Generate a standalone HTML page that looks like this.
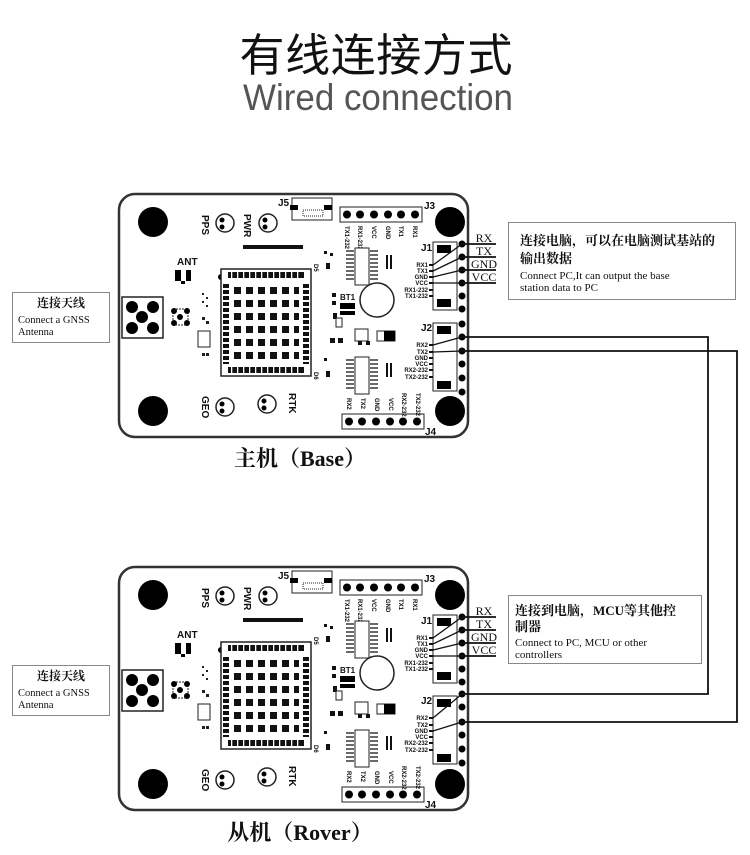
<!DOCTYPE html>
<html><head><meta charset="utf-8"><style>
html,body{margin:0;padding:0;background:#fff;}
svg{display:block;}
.cn{font-family:"Liberation Serif","Noto Serif CJK SC",serif;}
.pl{font-family:"Liberation Sans",sans-serif;font-size:6px;font-weight:bold;fill:#111;}
.lb{font-family:"Liberation Sans",sans-serif;font-weight:bold;fill:#111;}
</style></head><body>
<svg width="750" height="855" viewBox="0 0 750 855" xmlns="http://www.w3.org/2000/svg">
<rect width="750" height="855" fill="#fff"/>
<text x="376" y="71" text-anchor="middle" font-family="Noto Sans CJK SC,sans-serif" font-size="45" fill="#111" textLength="273">有线连接方式</text>
<text x="378" y="110" text-anchor="middle" font-family="Liberation Sans,sans-serif" font-size="37" fill="#555" textLength="270" lengthAdjust="spacingAndGlyphs">Wired connection</text>

<!-- BASE BOARD -->
<g transform="translate(118,193)">
<rect x="1" y="1" width="349" height="243" rx="16" fill="#fff" stroke="#333" stroke-width="2.5"/>
<circle cx="35" cy="29" r="15"/><circle cx="332" cy="29" r="15"/><circle cx="35" cy="218" r="15"/><circle cx="332" cy="218" r="15"/>
<rect x="4" y="104" width="41" height="41" fill="#fff" stroke="#222" stroke-width="1.5"/>
<circle cx="14" cy="114" r="6"/><circle cx="35" cy="114" r="6"/><circle cx="24" cy="124" r="6"/><circle cx="14" cy="135" r="6"/><circle cx="35" cy="135" r="6"/>
<rect x="55" y="116" width="15" height="16" fill="none" stroke="#222" stroke-dasharray="2 1"/>
<circle cx="56" cy="118" r="3"/><circle cx="69" cy="118" r="3"/><circle cx="62" cy="124" r="3"/><circle cx="56" cy="130" r="3"/><circle cx="69" cy="130" r="3"/>
<text class="lb" x="59" y="72" font-size="10">ANT</text>
<rect x="57" y="77" width="6" height="11"/><rect x="68" y="77" width="5" height="11"/><rect x="63" y="88" width="4" height="3"/>
<circle cx="103" cy="84" r="3"/>
<rect x="80" y="138" width="12" height="16" fill="none" stroke="#222"/>
<g fill="#222"><rect x="84" y="100" width="2" height="2"/><rect x="88" y="104" width="2" height="2"/><rect x="84" y="108" width="2" height="2"/><rect x="88" y="112" width="2" height="2"/><rect x="84" y="124" width="3" height="3"/><rect x="88" y="128" width="3" height="3"/><rect x="84" y="160" width="3" height="3"/><rect x="88" y="160" width="3" height="3"/></g>
<rect x="103" y="76" width="90" height="107" fill="#fff" stroke="#222" stroke-width="1.5"/>
<g fill="#111">
<rect x="110" y="79" width="76" height="6"/><rect x="110" y="174" width="76" height="6"/>
<rect x="105" y="91" width="6" height="80"/><rect x="185" y="91" width="6" height="80"/>
</g>
<g fill="#fff"><rect x="113" y="79" width="1.3" height="6"/><rect x="119" y="79" width="1.3" height="6"/><rect x="125" y="79" width="1.3" height="6"/><rect x="131" y="79" width="1.3" height="6"/><rect x="137" y="79" width="1.3" height="6"/><rect x="143" y="79" width="1.3" height="6"/><rect x="149" y="79" width="1.3" height="6"/><rect x="155" y="79" width="1.3" height="6"/><rect x="161" y="79" width="1.3" height="6"/><rect x="167" y="79" width="1.3" height="6"/><rect x="173" y="79" width="1.3" height="6"/><rect x="179" y="79" width="1.3" height="6"/>
<rect x="113" y="174" width="1.3" height="6"/><rect x="119" y="174" width="1.3" height="6"/><rect x="125" y="174" width="1.3" height="6"/><rect x="131" y="174" width="1.3" height="6"/><rect x="137" y="174" width="1.3" height="6"/><rect x="143" y="174" width="1.3" height="6"/><rect x="149" y="174" width="1.3" height="6"/><rect x="155" y="174" width="1.3" height="6"/><rect x="161" y="174" width="1.3" height="6"/><rect x="167" y="174" width="1.3" height="6"/><rect x="173" y="174" width="1.3" height="6"/><rect x="179" y="174" width="1.3" height="6"/>
<rect x="105" y="95" width="6" height="2"/><rect x="105" y="101" width="6" height="2"/><rect x="105" y="107" width="6" height="2"/><rect x="105" y="113" width="6" height="2"/><rect x="105" y="119" width="6" height="2"/><rect x="105" y="125" width="6" height="2"/><rect x="105" y="131" width="6" height="2"/><rect x="105" y="137" width="6" height="2"/><rect x="105" y="143" width="6" height="2"/><rect x="105" y="149" width="6" height="2"/><rect x="105" y="155" width="6" height="2"/><rect x="105" y="161" width="6" height="2"/><rect x="105" y="167" width="6" height="2"/>
<rect x="185" y="95" width="6" height="2"/><rect x="185" y="101" width="6" height="2"/><rect x="185" y="107" width="6" height="2"/><rect x="185" y="113" width="6" height="2"/><rect x="185" y="119" width="6" height="2"/><rect x="185" y="125" width="6" height="2"/><rect x="185" y="131" width="6" height="2"/><rect x="185" y="137" width="6" height="2"/><rect x="185" y="143" width="6" height="2"/><rect x="185" y="149" width="6" height="2"/><rect x="185" y="155" width="6" height="2"/><rect x="185" y="161" width="6" height="2"/><rect x="185" y="167" width="6" height="2"/></g>
<g fill="#111">
<rect x="116" y="94" width="7" height="7"/><rect x="128" y="94" width="7" height="7"/><rect x="140" y="94" width="7" height="7"/><rect x="152" y="94" width="7" height="7"/><rect x="164" y="94" width="7" height="7"/><rect x="176" y="94" width="5" height="7"/>
<rect x="116" y="107" width="7" height="7"/><rect x="128" y="107" width="7" height="7"/><rect x="140" y="107" width="7" height="7"/><rect x="152" y="107" width="7" height="7"/><rect x="164" y="107" width="7" height="7"/><rect x="176" y="107" width="5" height="7"/>
<rect x="116" y="120" width="7" height="7"/><rect x="128" y="120" width="7" height="7"/><rect x="140" y="120" width="7" height="7"/><rect x="152" y="120" width="7" height="7"/><rect x="164" y="120" width="7" height="7"/><rect x="176" y="120" width="5" height="7"/>
<rect x="116" y="133" width="7" height="7"/><rect x="128" y="133" width="7" height="7"/><rect x="140" y="133" width="7" height="7"/><rect x="152" y="133" width="7" height="7"/><rect x="164" y="133" width="7" height="7"/><rect x="176" y="133" width="5" height="7"/>
<rect x="116" y="146" width="7" height="7"/><rect x="128" y="146" width="7" height="7"/><rect x="140" y="146" width="7" height="7"/><rect x="152" y="146" width="7" height="7"/><rect x="164" y="146" width="7" height="7"/><rect x="176" y="146" width="5" height="7"/>
<rect x="116" y="159" width="7" height="7"/><rect x="128" y="159" width="7" height="7"/><rect x="140" y="159" width="7" height="7"/><rect x="152" y="159" width="7" height="7"/><rect x="164" y="159" width="7" height="7"/><rect x="176" y="159" width="5" height="7"/>
<rect x="125" y="52" width="60" height="4"/>
</g>
<g fill="#fff" stroke="#222" stroke-width="1.5"><circle cx="107" cy="30" r="9"/><circle cx="150" cy="30" r="9"/><circle cx="107" cy="214" r="9"/><circle cx="149" cy="211" r="9"/></g>
<g><circle cx="104" cy="27" r="2.5"/><circle cx="104" cy="34" r="2.5"/><circle cx="147" cy="27" r="2.5"/><circle cx="147" cy="34" r="2.5"/><circle cx="104" cy="211" r="2.5"/><circle cx="104" cy="218" r="2.5"/><circle cx="146" cy="208" r="2.5"/><circle cx="146" cy="215" r="2.5"/></g>
<text class="lb" font-size="10" transform="translate(84,22) rotate(90)">PPS</text>
<text class="lb" font-size="10" transform="translate(126,21) rotate(90)">PWR</text>
<text class="lb" font-size="10" transform="translate(84,203) rotate(90)">GEO</text>
<text class="lb" font-size="10" transform="translate(171,200) rotate(90)">RTK</text>
<rect x="174" y="5" width="40" height="22" fill="#fff" stroke="#222"/>
<rect x="172" y="12" width="8" height="5"/><rect x="206" y="12" width="8" height="5"/>
<rect x="185" y="17" width="20" height="6" fill="none" stroke="#222" stroke-dasharray="1 1"/>
<text class="lb" x="160" y="13" font-size="10">J5</text>
<rect x="222" y="14" width="82" height="15" fill="#fff" stroke="#222"/>
<g><circle cx="229" cy="21.5" r="4"/><circle cx="242" cy="21.5" r="4"/><circle cx="256" cy="21.5" r="4"/><circle cx="270" cy="21.5" r="4"/><circle cx="283" cy="21.5" r="4"/><circle cx="297" cy="21.5" r="4"/></g>
<text class="lb" x="306" y="16" font-size="10">J3</text>
<g class="pl"><text transform="translate(227,33) rotate(90)">TX1-232</text><text transform="translate(240,33) rotate(90)">RX1-232</text><text transform="translate(254,33) rotate(90)">VCC</text><text transform="translate(268,33) rotate(90)">GND</text><text transform="translate(281,33) rotate(90)">TX1</text><text transform="translate(295,33) rotate(90)">RX1</text></g>
<rect x="224" y="221" width="82" height="15" fill="#fff" stroke="#222"/>
<g><circle cx="231" cy="228.5" r="4"/><circle cx="244" cy="228.5" r="4"/><circle cx="258" cy="228.5" r="4"/><circle cx="272" cy="228.5" r="4"/><circle cx="285" cy="228.5" r="4"/><circle cx="299" cy="228.5" r="4"/></g>
<text class="lb" x="307" y="242" font-size="10">J4</text>
<g class="pl"><text transform="translate(229,205) rotate(90)">RX2</text><text transform="translate(243,205) rotate(90)">TX2</text><text transform="translate(257,205) rotate(90)">GND</text><text transform="translate(271,205) rotate(90)">VCC</text><text transform="translate(284,200) rotate(90)">RX2-232</text><text transform="translate(298,200) rotate(90)">TX2-232</text></g>
<rect x="237" y="55" width="14" height="37" fill="#fff" stroke="#222"/>
<g stroke="#111" stroke-width="1.3"><path d="M228 58h8M228 62h8M228 66h8M228 70h8M228 74h8M228 78h8M228 82h8M228 86h8M252 58h8M252 62h8M252 66h8M252 70h8M252 74h8M252 78h8M252 82h8M252 86h8"/></g>
<rect x="237" y="164" width="14" height="37" fill="#fff" stroke="#222"/>
<g stroke="#111" stroke-width="1.3"><path d="M228 167h8M228 171h8M228 175h8M228 179h8M228 183h8M228 187h8M228 191h8M228 195h8M252 167h8M252 171h8M252 175h8M252 179h8M252 183h8M252 187h8M252 191h8M252 195h8"/></g>
<g fill="#111"><rect x="206" y="58" width="3" height="3"/><rect x="212" y="60" width="3" height="3"/><rect x="208" y="70" width="4" height="6"/><rect x="206" y="165" width="3" height="3"/><rect x="208" y="178" width="4" height="6"/><rect x="268" y="62" width="2" height="14"/><rect x="272" y="62" width="2" height="14"/><rect x="268" y="170" width="2" height="14"/><rect x="272" y="170" width="2" height="14"/><rect x="214" y="100" width="4" height="4"/><rect x="214" y="108" width="4" height="4"/><rect x="215" y="120" width="4" height="6"/><rect x="212" y="145" width="5" height="5"/><rect x="220" y="145" width="5" height="5"/><rect x="240" y="148" width="4" height="4"/><rect x="248" y="148" width="4" height="4"/></g>
<text class="pl" x="195" y="80" transform="rotate(90 200 76)">D5</text>
<text class="pl" x="195" y="188" transform="rotate(90 200 184)">D6</text>
<circle cx="259" cy="107" r="17" fill="#fff" stroke="#222" stroke-width="1.5"/>
<text class="lb" x="222" y="107" font-size="8">BT1</text>
<rect x="222" y="110" width="15" height="6"/><rect x="222" y="118" width="15" height="4"/>
<rect x="237" y="136" width="13" height="12" fill="#fff" stroke="#222"/>
<rect x="259" y="138" width="18" height="10" fill="#fff" stroke="#222"/><rect x="266" y="138" width="11" height="10"/>
<rect x="218" y="125" width="6" height="9" fill="#fff" stroke="#222"/>
<rect x="315" y="49" width="24" height="68" fill="#fff" stroke="#222"/>
<rect x="319" y="52" width="14" height="8"/><rect x="319" y="106" width="14" height="8"/>
<rect x="315" y="130" width="24" height="68" fill="#fff" stroke="#222"/>
<rect x="319" y="133" width="14" height="8"/><rect x="319" y="188" width="14" height="8"/>
<text class="lb" x="303" y="58" font-size="10">J1</text>
<text class="lb" x="303" y="138" font-size="10">J2</text>
<g fill="#111"><rect x="311" y="71" width="4" height="2"/><rect x="311" y="77" width="4" height="2"/><rect x="311" y="83" width="4" height="2"/><rect x="311" y="89" width="4" height="2"/><rect x="311" y="96" width="4" height="2"/><rect x="311" y="102" width="4" height="2"/>
<rect x="311" y="151" width="4" height="2"/><rect x="311" y="158" width="4" height="2"/><rect x="311" y="164" width="4" height="2"/><rect x="311" y="170" width="4" height="2"/><rect x="311" y="176" width="4" height="2"/><rect x="311" y="183" width="4" height="2"/></g>
<g class="pl" text-anchor="end"><text x="310" y="74">RX1</text><text x="310" y="80">TX1</text><text x="310" y="86">GND</text><text x="310" y="92">VCC</text><text x="310" y="99">RX1-232</text><text x="310" y="105">TX1-232</text>
<text x="310" y="154">RX2</text><text x="310" y="161">TX2</text><text x="310" y="167">GND</text><text x="310" y="173">VCC</text><text x="310" y="179">RX2-232</text><text x="310" y="186">TX2-232</text></g>
<g><circle cx="344" cy="51" r="3.5"/><circle cx="344" cy="64" r="3.5"/><circle cx="344" cy="77" r="3.5"/><circle cx="344" cy="90" r="3.5"/><circle cx="344" cy="103" r="3.5"/><circle cx="344" cy="116" r="3.5"/><circle cx="344" cy="131" r="3.5"/><circle cx="344" cy="144" r="3.5"/><circle cx="344" cy="158" r="3.5"/><circle cx="344" cy="171" r="3.5"/><circle cx="344" cy="185" r="3.5"/><circle cx="344" cy="199" r="3.5"/></g>
<g stroke="#111" stroke-width="1.3" fill="none"><path d="M315 72L344 51M315 78L344 64M315 84L344 77M315 90L344 90M315 152L344 144M315 159L344 158"/></g>
</g>

<!-- ROVER BOARD -->
<g transform="translate(118,566)">
<rect x="1" y="1" width="349" height="243" rx="16" fill="#fff" stroke="#333" stroke-width="2.5"/>
<circle cx="35" cy="29" r="15"/><circle cx="332" cy="29" r="15"/><circle cx="35" cy="218" r="15"/><circle cx="332" cy="218" r="15"/>
<rect x="4" y="104" width="41" height="41" fill="#fff" stroke="#222" stroke-width="1.5"/>
<circle cx="14" cy="114" r="6"/><circle cx="35" cy="114" r="6"/><circle cx="24" cy="124" r="6"/><circle cx="14" cy="135" r="6"/><circle cx="35" cy="135" r="6"/>
<rect x="55" y="116" width="15" height="16" fill="none" stroke="#222" stroke-dasharray="2 1"/>
<circle cx="56" cy="118" r="3"/><circle cx="69" cy="118" r="3"/><circle cx="62" cy="124" r="3"/><circle cx="56" cy="130" r="3"/><circle cx="69" cy="130" r="3"/>
<text class="lb" x="59" y="72" font-size="10">ANT</text>
<rect x="57" y="77" width="6" height="11"/><rect x="68" y="77" width="5" height="11"/><rect x="63" y="88" width="4" height="3"/>
<circle cx="103" cy="84" r="3"/>
<rect x="80" y="138" width="12" height="16" fill="none" stroke="#222"/>
<g fill="#222"><rect x="84" y="100" width="2" height="2"/><rect x="88" y="104" width="2" height="2"/><rect x="84" y="108" width="2" height="2"/><rect x="88" y="112" width="2" height="2"/><rect x="84" y="124" width="3" height="3"/><rect x="88" y="128" width="3" height="3"/><rect x="84" y="160" width="3" height="3"/><rect x="88" y="160" width="3" height="3"/></g>
<rect x="103" y="76" width="90" height="107" fill="#fff" stroke="#222" stroke-width="1.5"/>
<g fill="#111">
<rect x="110" y="79" width="76" height="6"/><rect x="110" y="174" width="76" height="6"/>
<rect x="105" y="91" width="6" height="80"/><rect x="185" y="91" width="6" height="80"/>
</g>
<g fill="#fff"><rect x="113" y="79" width="1.3" height="6"/><rect x="119" y="79" width="1.3" height="6"/><rect x="125" y="79" width="1.3" height="6"/><rect x="131" y="79" width="1.3" height="6"/><rect x="137" y="79" width="1.3" height="6"/><rect x="143" y="79" width="1.3" height="6"/><rect x="149" y="79" width="1.3" height="6"/><rect x="155" y="79" width="1.3" height="6"/><rect x="161" y="79" width="1.3" height="6"/><rect x="167" y="79" width="1.3" height="6"/><rect x="173" y="79" width="1.3" height="6"/><rect x="179" y="79" width="1.3" height="6"/>
<rect x="113" y="174" width="1.3" height="6"/><rect x="119" y="174" width="1.3" height="6"/><rect x="125" y="174" width="1.3" height="6"/><rect x="131" y="174" width="1.3" height="6"/><rect x="137" y="174" width="1.3" height="6"/><rect x="143" y="174" width="1.3" height="6"/><rect x="149" y="174" width="1.3" height="6"/><rect x="155" y="174" width="1.3" height="6"/><rect x="161" y="174" width="1.3" height="6"/><rect x="167" y="174" width="1.3" height="6"/><rect x="173" y="174" width="1.3" height="6"/><rect x="179" y="174" width="1.3" height="6"/>
<rect x="105" y="95" width="6" height="2"/><rect x="105" y="101" width="6" height="2"/><rect x="105" y="107" width="6" height="2"/><rect x="105" y="113" width="6" height="2"/><rect x="105" y="119" width="6" height="2"/><rect x="105" y="125" width="6" height="2"/><rect x="105" y="131" width="6" height="2"/><rect x="105" y="137" width="6" height="2"/><rect x="105" y="143" width="6" height="2"/><rect x="105" y="149" width="6" height="2"/><rect x="105" y="155" width="6" height="2"/><rect x="105" y="161" width="6" height="2"/><rect x="105" y="167" width="6" height="2"/>
<rect x="185" y="95" width="6" height="2"/><rect x="185" y="101" width="6" height="2"/><rect x="185" y="107" width="6" height="2"/><rect x="185" y="113" width="6" height="2"/><rect x="185" y="119" width="6" height="2"/><rect x="185" y="125" width="6" height="2"/><rect x="185" y="131" width="6" height="2"/><rect x="185" y="137" width="6" height="2"/><rect x="185" y="143" width="6" height="2"/><rect x="185" y="149" width="6" height="2"/><rect x="185" y="155" width="6" height="2"/><rect x="185" y="161" width="6" height="2"/><rect x="185" y="167" width="6" height="2"/></g>
<g fill="#111">
<rect x="116" y="94" width="7" height="7"/><rect x="128" y="94" width="7" height="7"/><rect x="140" y="94" width="7" height="7"/><rect x="152" y="94" width="7" height="7"/><rect x="164" y="94" width="7" height="7"/><rect x="176" y="94" width="5" height="7"/>
<rect x="116" y="107" width="7" height="7"/><rect x="128" y="107" width="7" height="7"/><rect x="140" y="107" width="7" height="7"/><rect x="152" y="107" width="7" height="7"/><rect x="164" y="107" width="7" height="7"/><rect x="176" y="107" width="5" height="7"/>
<rect x="116" y="120" width="7" height="7"/><rect x="128" y="120" width="7" height="7"/><rect x="140" y="120" width="7" height="7"/><rect x="152" y="120" width="7" height="7"/><rect x="164" y="120" width="7" height="7"/><rect x="176" y="120" width="5" height="7"/>
<rect x="116" y="133" width="7" height="7"/><rect x="128" y="133" width="7" height="7"/><rect x="140" y="133" width="7" height="7"/><rect x="152" y="133" width="7" height="7"/><rect x="164" y="133" width="7" height="7"/><rect x="176" y="133" width="5" height="7"/>
<rect x="116" y="146" width="7" height="7"/><rect x="128" y="146" width="7" height="7"/><rect x="140" y="146" width="7" height="7"/><rect x="152" y="146" width="7" height="7"/><rect x="164" y="146" width="7" height="7"/><rect x="176" y="146" width="5" height="7"/>
<rect x="116" y="159" width="7" height="7"/><rect x="128" y="159" width="7" height="7"/><rect x="140" y="159" width="7" height="7"/><rect x="152" y="159" width="7" height="7"/><rect x="164" y="159" width="7" height="7"/><rect x="176" y="159" width="5" height="7"/>
<rect x="125" y="52" width="60" height="4"/>
</g>
<g fill="#fff" stroke="#222" stroke-width="1.5"><circle cx="107" cy="30" r="9"/><circle cx="150" cy="30" r="9"/><circle cx="107" cy="214" r="9"/><circle cx="149" cy="211" r="9"/></g>
<g><circle cx="104" cy="27" r="2.5"/><circle cx="104" cy="34" r="2.5"/><circle cx="147" cy="27" r="2.5"/><circle cx="147" cy="34" r="2.5"/><circle cx="104" cy="211" r="2.5"/><circle cx="104" cy="218" r="2.5"/><circle cx="146" cy="208" r="2.5"/><circle cx="146" cy="215" r="2.5"/></g>
<text class="lb" font-size="10" transform="translate(84,22) rotate(90)">PPS</text>
<text class="lb" font-size="10" transform="translate(126,21) rotate(90)">PWR</text>
<text class="lb" font-size="10" transform="translate(84,203) rotate(90)">GEO</text>
<text class="lb" font-size="10" transform="translate(171,200) rotate(90)">RTK</text>
<rect x="174" y="5" width="40" height="22" fill="#fff" stroke="#222"/>
<rect x="172" y="12" width="8" height="5"/><rect x="206" y="12" width="8" height="5"/>
<rect x="185" y="17" width="20" height="6" fill="none" stroke="#222" stroke-dasharray="1 1"/>
<text class="lb" x="160" y="13" font-size="10">J5</text>
<rect x="222" y="14" width="82" height="15" fill="#fff" stroke="#222"/>
<g><circle cx="229" cy="21.5" r="4"/><circle cx="242" cy="21.5" r="4"/><circle cx="256" cy="21.5" r="4"/><circle cx="270" cy="21.5" r="4"/><circle cx="283" cy="21.5" r="4"/><circle cx="297" cy="21.5" r="4"/></g>
<text class="lb" x="306" y="16" font-size="10">J3</text>
<g class="pl"><text transform="translate(227,33) rotate(90)">TX1-232</text><text transform="translate(240,33) rotate(90)">RX1-232</text><text transform="translate(254,33) rotate(90)">VCC</text><text transform="translate(268,33) rotate(90)">GND</text><text transform="translate(281,33) rotate(90)">TX1</text><text transform="translate(295,33) rotate(90)">RX1</text></g>
<rect x="224" y="221" width="82" height="15" fill="#fff" stroke="#222"/>
<g><circle cx="231" cy="228.5" r="4"/><circle cx="244" cy="228.5" r="4"/><circle cx="258" cy="228.5" r="4"/><circle cx="272" cy="228.5" r="4"/><circle cx="285" cy="228.5" r="4"/><circle cx="299" cy="228.5" r="4"/></g>
<text class="lb" x="307" y="242" font-size="10">J4</text>
<g class="pl"><text transform="translate(229,205) rotate(90)">RX2</text><text transform="translate(243,205) rotate(90)">TX2</text><text transform="translate(257,205) rotate(90)">GND</text><text transform="translate(271,205) rotate(90)">VCC</text><text transform="translate(284,200) rotate(90)">RX2-232</text><text transform="translate(298,200) rotate(90)">TX2-232</text></g>
<rect x="237" y="55" width="14" height="37" fill="#fff" stroke="#222"/>
<g stroke="#111" stroke-width="1.3"><path d="M228 58h8M228 62h8M228 66h8M228 70h8M228 74h8M228 78h8M228 82h8M228 86h8M252 58h8M252 62h8M252 66h8M252 70h8M252 74h8M252 78h8M252 82h8M252 86h8"/></g>
<rect x="237" y="164" width="14" height="37" fill="#fff" stroke="#222"/>
<g stroke="#111" stroke-width="1.3"><path d="M228 167h8M228 171h8M228 175h8M228 179h8M228 183h8M228 187h8M228 191h8M228 195h8M252 167h8M252 171h8M252 175h8M252 179h8M252 183h8M252 187h8M252 191h8M252 195h8"/></g>
<g fill="#111"><rect x="206" y="58" width="3" height="3"/><rect x="212" y="60" width="3" height="3"/><rect x="208" y="70" width="4" height="6"/><rect x="206" y="165" width="3" height="3"/><rect x="208" y="178" width="4" height="6"/><rect x="268" y="62" width="2" height="14"/><rect x="272" y="62" width="2" height="14"/><rect x="268" y="170" width="2" height="14"/><rect x="272" y="170" width="2" height="14"/><rect x="214" y="100" width="4" height="4"/><rect x="214" y="108" width="4" height="4"/><rect x="215" y="120" width="4" height="6"/><rect x="212" y="145" width="5" height="5"/><rect x="220" y="145" width="5" height="5"/><rect x="240" y="148" width="4" height="4"/><rect x="248" y="148" width="4" height="4"/></g>
<text class="pl" x="195" y="80" transform="rotate(90 200 76)">D5</text>
<text class="pl" x="195" y="188" transform="rotate(90 200 184)">D6</text>
<circle cx="259" cy="107" r="17" fill="#fff" stroke="#222" stroke-width="1.5"/>
<text class="lb" x="222" y="107" font-size="8">BT1</text>
<rect x="222" y="110" width="15" height="6"/><rect x="222" y="118" width="15" height="4"/>
<rect x="237" y="136" width="13" height="12" fill="#fff" stroke="#222"/>
<rect x="259" y="138" width="18" height="10" fill="#fff" stroke="#222"/><rect x="266" y="138" width="11" height="10"/>
<rect x="218" y="125" width="6" height="9" fill="#fff" stroke="#222"/>
<rect x="315" y="49" width="24" height="68" fill="#fff" stroke="#222"/>
<rect x="319" y="52" width="14" height="8"/><rect x="319" y="106" width="14" height="8"/>
<rect x="315" y="130" width="24" height="68" fill="#fff" stroke="#222"/>
<rect x="319" y="133" width="14" height="8"/><rect x="319" y="188" width="14" height="8"/>
<text class="lb" x="303" y="58" font-size="10">J1</text>
<text class="lb" x="303" y="138" font-size="10">J2</text>
<g fill="#111"><rect x="311" y="71" width="4" height="2"/><rect x="311" y="77" width="4" height="2"/><rect x="311" y="83" width="4" height="2"/><rect x="311" y="89" width="4" height="2"/><rect x="311" y="96" width="4" height="2"/><rect x="311" y="102" width="4" height="2"/>
<rect x="311" y="151" width="4" height="2"/><rect x="311" y="158" width="4" height="2"/><rect x="311" y="164" width="4" height="2"/><rect x="311" y="170" width="4" height="2"/><rect x="311" y="176" width="4" height="2"/><rect x="311" y="183" width="4" height="2"/></g>
<g class="pl" text-anchor="end"><text x="310" y="74">RX1</text><text x="310" y="80">TX1</text><text x="310" y="86">GND</text><text x="310" y="92">VCC</text><text x="310" y="99">RX1-232</text><text x="310" y="105">TX1-232</text>
<text x="310" y="154">RX2</text><text x="310" y="161">TX2</text><text x="310" y="167">GND</text><text x="310" y="173">VCC</text><text x="310" y="179">RX2-232</text><text x="310" y="186">TX2-232</text></g>
<g><circle cx="344" cy="51" r="3.5"/><circle cx="344" cy="64" r="3.5"/><circle cx="344" cy="77" r="3.5"/><circle cx="344" cy="90" r="3.5"/><circle cx="344" cy="103" r="3.5"/><circle cx="344" cy="116" r="3.5"/><circle cx="344" cy="128" r="3.5"/><circle cx="344" cy="141" r="3.5"/><circle cx="344" cy="156" r="3.5"/><circle cx="344" cy="169" r="3.5"/><circle cx="344" cy="183" r="3.5"/><circle cx="344" cy="197" r="3.5"/></g>
<g stroke="#111" stroke-width="1.3" fill="none"><path d="M315 72L344 51M315 78L344 64M315 84L344 77M315 90L344 90M315 152L344 128M315 165L344 156"/></g>
</g>

<g stroke="#111" stroke-width="1.8" fill="none">
<path d="M462 244H496M462 257H496M462 270H496M462 283H496"/>
<path d="M462 617H496M462 630H496M462 643H496M462 656H496"/>
<path d="M462 337H708V694H462"/>
<path d="M462 351H737V722H462"/>
</g>
<g class="cn" font-size="12" fill="#111" text-anchor="middle">
<text x="484" y="242">RX</text><text x="484" y="255">TX</text><text x="484" y="268">GND</text><text x="484" y="281">VCC</text>
<text x="484" y="615">RX</text><text x="484" y="628">TX</text><text x="484" y="641">GND</text><text x="484" y="654">VCC</text>
</g>

<rect x="508.5" y="222.5" width="227" height="77" fill="#fff" stroke="#888"/>
<g class="cn" fill="#111">
<text x="520" y="245" font-size="13" font-weight="bold">连接电脑，可以在电脑测试基站的</text>
<text x="520" y="263" font-size="13" font-weight="bold">输出数据</text>
<text x="520" y="279" font-size="11">Connect PC,It can output the base</text>
<text x="520" y="291" font-size="11">station data to PC</text>
</g>
<rect x="508.5" y="595.5" width="193" height="68" fill="#fff" stroke="#888"/>
<g class="cn" fill="#111">
<text x="515" y="615" font-size="13" font-weight="bold">连接到电脑，MCU等其他控</text>
<text x="515" y="631" font-size="13" font-weight="bold">制器</text>
<text x="515" y="646" font-size="11">Connect to PC,  MCU or other</text>
<text x="515" y="658" font-size="11">controllers</text>
</g>
<rect x="12.5" y="292.5" width="97" height="50" fill="#fff" stroke="#888"/>
<g class="cn" fill="#111">
<text x="61" y="307" font-size="12" font-weight="bold" text-anchor="middle">连接天线</text>
<text x="18" y="323" font-size="10.5">Connect a GNSS</text>
<text x="18" y="335" font-size="10.5">Antenna</text>
</g>
<rect x="12.5" y="665.5" width="97" height="50" fill="#fff" stroke="#888"/>
<g class="cn" fill="#111">
<text x="61" y="680" font-size="12" font-weight="bold" text-anchor="middle">连接天线</text>
<text x="18" y="696" font-size="10.5">Connect a GNSS</text>
<text x="18" y="708" font-size="10.5">Antenna</text>
</g>

<text class="cn" x="300" y="466" text-anchor="middle" font-size="22" font-weight="bold" fill="#111">主机（Base）</text>
<text class="cn" x="300" y="840" text-anchor="middle" font-size="22" font-weight="bold" fill="#111">从机（Rover）</text>
</svg>
</body></html>
